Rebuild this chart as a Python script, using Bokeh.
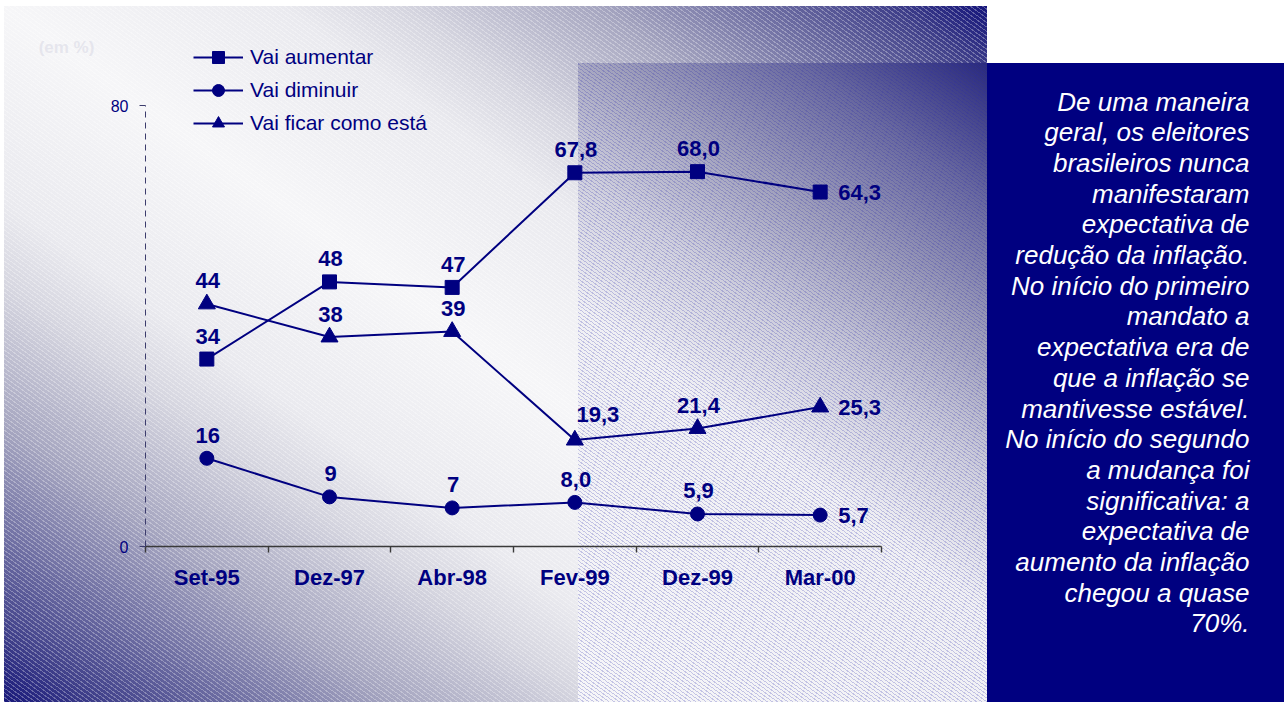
from bokeh.plotting import figure
from bokeh.models import (Range1d, LinearAxis, FixedTicker, Legend, LegendItem,
                          ColumnDataSource)
from bokeh.embed import file_html
from bokeh.resources import INLINE
from bokeh.core.properties import value

# ---- data -------------------------------------------------------------
categories = ["Set-95", "Dez-97", "Abr-98", "Fev-99", "Dez-99", "Mar-00"]
vai_aumentar = [34, 48, 47, 67.8, 68.0, 64.3]
vai_diminuir = [16, 9, 7, 8.0, 5.9, 5.7]
vai_ficar = [44, 38, 39, 19.3, 21.4, 25.3]
label_decimals = [0, 0, 0, 1, 1, 1]
y_ticks = [0, 80]
series_names = ["Vai aumentar", "Vai diminuir", "Vai ficar como está"]
unit_note = "(em %)"
side_text = [
    "De uma maneira",
    "geral, os eleitores",
    "brasileiros nunca",
    "manifestaram",
    "expectativa de",
    "redução da inflação.",
    "No início do primeiro",
    "mandato a",
    "expectativa era de",
    "que a inflação se",
    "mantivesse estável.",
    "No início do segundo",
    "a mudança foi",
    "significativa: a",
    "expectativa de",
    "aumento da inflação",
    "chegou a quase",
    "70%.",
]

# ---- layout ---------------------------------------------------------------
W, H = 1284, 702
NAVY = "#000080"
FONT = "Liberation Sans"
ORIGIN_X = 145                                  # pixel column of the value axis
AXIS_Y = 546                                    # pixel row of the category axis
UX = (881 - ORIGIN_X) / len(categories)        # pixels per category
UY = (AXIS_Y - 105) / y_ticks[-1]              # pixels per percentage point


def px_to_data(px, py):
    return (px - ORIGIN_X) / UX, (AXIS_Y - py) / UY


# the plotting frame fills the whole canvas; the axes sit at fixed locations
p = figure(width=W, height=H, output_backend="svg", toolbar_location=None,
           x_range=Range1d(-ORIGIN_X / UX, (W - ORIGIN_X) / UX),
           y_range=Range1d(-(H - AXIS_Y) / UY, AXIS_Y / UY),
           x_axis_type=None, y_axis_type=None,
           min_border=0)
p.grid.visible = False
p.outline_line_color = None
p.border_fill_color = None
p.background_fill_color = None

# page background: diagonal shading, fine hatching and the text panel
outer_grad = ("linear-gradient(to top right, #18187a 0%, #40408a 5%, #62629c 10%, "
              "#a6a6c0 20%, #d6d6e0 30%, #eaeaef 36%, #f6f6f8 50%, #eaeaef 64%, "
              "#d6d6e0 70%, #a6a6c0 80%, #62629c 90%, #40408a 95%, #14147a 100%)")
outer_hatch = ("repeating-linear-gradient(36deg, rgba(255,255,255,0.3) 0px, "
               "rgba(255,255,255,0.3) 1px, rgba(255,255,255,0) 1px, "
               "rgba(255,255,255,0) 3.6px)")
inner_grad = ("linear-gradient(37deg, #f6f6f8 0%, #f0f0f4 42%, #cfcfdd 56%, "
              "#a0a0bc 70%, #6a6aa0 85%, #2a2a7c 100%)")
inner_hatch = ("repeating-linear-gradient(36deg, rgba(40,40,170,0.24) 0px, "
               "rgba(40,40,170,0.24) 0.9px, rgba(40,40,170,0) 0.9px, "
               "rgba(40,40,170,0) 3px)")
panel = "linear-gradient(#000080, #000080)"
p.styles = {
    "background": ", ".join([
        inner_hatch + " 578px 63px / 409px 639px no-repeat",
        inner_grad + " 578px 63px / 409px 639px no-repeat",
        panel + " 987px 63px / 297px 639px no-repeat",
        outer_hatch + " 4px 6px / 983px 696px no-repeat",
        outer_grad + " 4px 6px / 983px 696px no-repeat",
        "#ffffff",
    ])
}

# ---- axes -----------------------------------------------------------------
centers = [i + 0.5 for i in range(len(categories))]
xaxis = LinearAxis(
    fixed_location=0,
    ticker=FixedTicker(ticks=centers, minor_ticks=list(range(len(categories) + 1))),
    major_label_overrides={c: lab for c, lab in zip(centers, categories)},
    bounds=(0, len(categories)),
    axis_line_color="#3a3a3a", axis_line_width=1.6,
    major_tick_line_color=None, major_tick_in=0, major_tick_out=0,
    minor_tick_line_color="#3a3a3a", minor_tick_line_width=1.4,
    minor_tick_in=0, minor_tick_out=6,
    major_label_standoff=12,
    major_label_text_font=FONT, major_label_text_font_style="bold",
    major_label_text_font_size="22px", major_label_text_color=NAVY,
)
p.add_layout(xaxis, "below")

yaxis = LinearAxis(
    fixed_location=0,
    ticker=FixedTicker(ticks=y_ticks, minor_ticks=[]),
    bounds=(y_ticks[0], y_ticks[-1]),
    axis_line_color="#3c3c6c", axis_line_width=1, axis_line_dash="6 5",
    major_tick_line_color="#3c3c6c", major_tick_in=0, major_tick_out=6,
    minor_tick_line_color=None,
    major_label_standoff=11,
    major_label_text_font=FONT, major_label_text_font_size="16px",
    major_label_text_color=NAVY,
)
p.add_layout(yaxis, "left")

# ---- series ---------------------------------------------------------------
series = [vai_aumentar, vai_diminuir, vai_ficar]
markers = ["square", "circle", "triangle"]
marker_sizes = [14, 14, 17]

items = []
for name, vals, mk, ms in zip(series_names, series, markers, marker_sizes):
    src = ColumnDataSource(dict(x=centers, y=vals))
    ln = p.line("x", "y", source=src, line_color=NAVY, line_width=2)
    sc = p.scatter("x", "y", source=src, marker=mk, size=ms,
                   fill_color=NAVY, line_color=NAVY)
    items.append(LegendItem(label=name, renderers=[ln, sc]))

# value labels
for k, vals in enumerate(series):
    xs, ys, texts, aligns, xo, yo = [], [], [], [], [], []
    last = len(vals) - 1
    for i, v in enumerate(vals):
        txt = f"{v:.{label_decimals[i]}f}".replace(".", ",")
        xs.append(centers[i]); ys.append(v); texts.append(txt)
        if i == last:
            aligns.append("left"); xo.append(18); yo.append(0)
        elif k == 2 and i == 3:
            aligns.append("center"); xo.append(23); yo.append(-26)
        else:
            aligns.append("center"); xo.append(1); yo.append(-23)
    lsrc = ColumnDataSource(dict(x=xs, y=ys, text=texts, align=aligns, xo=xo, yo=yo))
    p.text(x="x", y="y", text="text", source=lsrc, text_align="align",
           x_offset="xo", y_offset="yo", text_baseline="middle",
           text_font=value(FONT), text_font_style="bold",
           text_font_size="22px", text_color=NAVY)

legend = Legend(items=items, location=(193, H - 138), padding=0, margin=0,
                spacing=3, glyph_width=50, glyph_height=30, label_height=30,
                label_standoff=7, label_text_font=FONT,
                label_text_font_size="21px", label_text_color=NAVY,
                background_fill_alpha=0, border_line_alpha=0)
p.add_layout(legend)

# unit note, barely visible in the upper-left corner
nx, ny = px_to_data(66, 47)
p.text(x=[nx], y=[ny], text=[unit_note], text_align="center",
       text_baseline="middle", text_font=value(FONT), text_font_style="bold",
       text_font_size="17px", text_color="#dedee8", text_alpha=0.7)

# commentary on the right-hand panel
tx = px_to_data(1249, 0)[0]
line_ys = [px_to_data(0, 101 + 30.7 * i)[1] for i in range(len(side_text))]
p.text(x=[tx] * len(side_text), y=line_ys, text=side_text,
       text_align="right", text_baseline="middle", text_font=value(FONT),
       text_font_style="italic", text_font_size="26px", text_color="#ffffff")

open("out.html", "w").write(file_html(p, INLINE))
